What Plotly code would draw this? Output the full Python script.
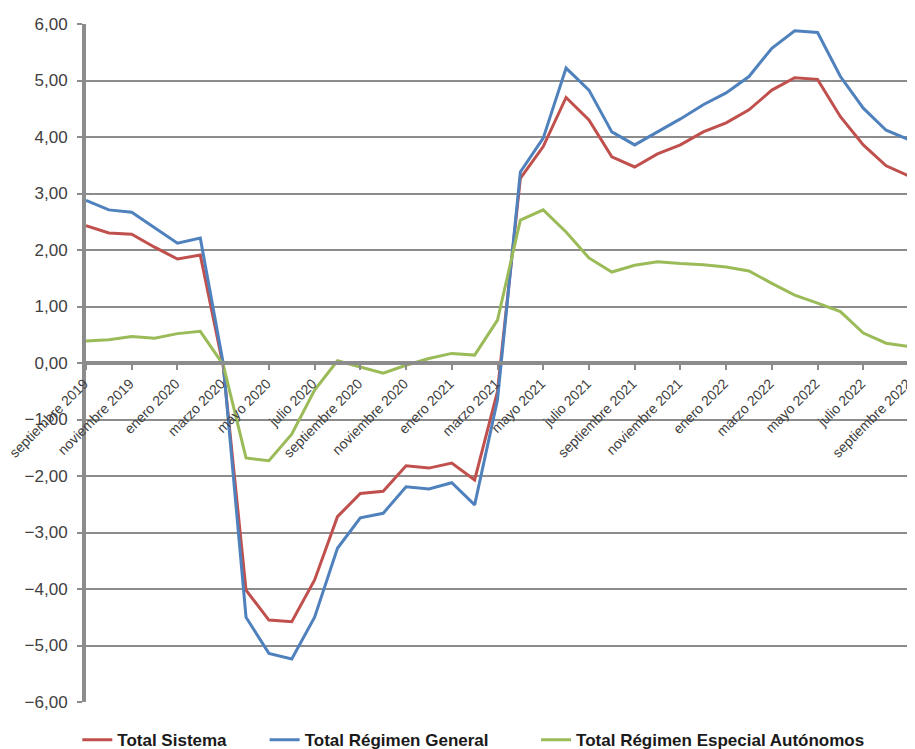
import plotly.graph_objects as go

# meses sep-2019 .. sep-2022
meses = ['enero', 'febrero', 'marzo', 'abril', 'mayo', 'junio', 'julio',
         'agosto', 'septiembre', 'octubre', 'noviembre', 'diciembre']
periodos = []
for k in range(37):
    m = (8 + k) % 12
    y = 2019 + (8 + k) // 12
    periodos.append(f'{meses[m]} {y}')

total_sistema = [2.43, 2.30, 2.28, 2.05, 1.84, 1.91, -0.05, -4.02, -4.55, -4.58,
                 -3.84, -2.72, -2.31, -2.27, -1.82, -1.86, -1.77, -2.07, -0.50,
                 3.27, 3.83, 4.70, 4.30, 3.65, 3.47, 3.70, 3.86, 4.09, 4.25,
                 4.48, 4.83, 5.05, 5.02, 4.36, 3.86, 3.49, 3.31]
regimen_general = [2.88, 2.71, 2.67, 2.39, 2.12, 2.21, 0.00, -4.50, -5.14, -5.24,
                   -4.50, -3.28, -2.74, -2.66, -2.19, -2.23, -2.12, -2.51, -0.65,
                   3.38, 3.98, 5.22, 4.83, 4.09, 3.86, 4.09, 4.32, 4.57, 4.78,
                   5.07, 5.57, 5.88, 5.85, 5.07, 4.51, 4.12, 3.95]
autonomos = [0.39, 0.41, 0.47, 0.44, 0.52, 0.56, -0.03, -1.68, -1.73, -1.26,
             -0.48, 0.04, -0.07, -0.18, -0.04, 0.08, 0.17, 0.14, 0.76,
             2.53, 2.71, 2.32, 1.86, 1.61, 1.73, 1.79, 1.76, 1.74, 1.70,
             1.63, 1.41, 1.20, 1.06, 0.91, 0.53, 0.35, 0.29]

series = [('Total Sistema', total_sistema, '#C0504D'),
          ('Total Régimen General', regimen_general, '#4F81BD'),
          ('Total Régimen Especial Autónomos', autonomos, '#9BBB59')]

pads = [7, 9, 0]
fig = go.Figure()
for (name, vals, col), p in zip(series, pads):
    label = f'<b>{name}</b>' + '&nbsp;' * p
    fig.add_trace(go.Scatter(x=periodos, y=vals, name=label, mode='lines',
                             line=dict(color=col, width=3)))

grey = '#8c8c8c'
# page body has an 8px margin, so the figure is a bit smaller than the window
fig.update_layout(
    width=907, height=741,
    margin=dict(l=78, r=6, t=16, b=47),
    plot_bgcolor='white', paper_bgcolor='white',
    separators=',.',
    font=dict(family='Liberation Sans, Arial, sans-serif', size=16, color='#404040'),
    showlegend=True,
    legend=dict(orientation='h', xref='container', yref='container',
                x=0.513, xanchor='center', y=0.012, yanchor='middle',
                font=dict(size=17, color='#1a1a1a', family='Liberation Sans, Arial'),
                itemwidth=30, traceorder='normal'),
)
fig.update_xaxes(type='category', range=[0, 36], automargin=False,
                 tickvals=periodos[::2], ticktext=periodos[::2],
                 tickangle=-45, anchor='free', position=0.5,
                 showline=True, linecolor=grey, linewidth=4,
                 ticks='outside', ticklen=5, tickcolor=grey, tickwidth=2,
                 ticklabelshift=-2,
                 showgrid=False, tickfont=dict(size=14, color='#404040'))
fig.update_yaxes(range=[-6, 6], dtick=1, tickformat='.2f', automargin=False,
                 showgrid=True, gridcolor=grey, gridwidth=2,
                 zeroline=True, zerolinecolor=grey, zerolinewidth=4,
                 showline=True, linecolor=grey, linewidth=4,
                 ticks='outside', ticklen=5, tickcolor=grey, tickwidth=2,
                 ticklabelstandoff=6,
                 tickfont=dict(size=17, color='#404040'))

fig.write_html('out.html')
